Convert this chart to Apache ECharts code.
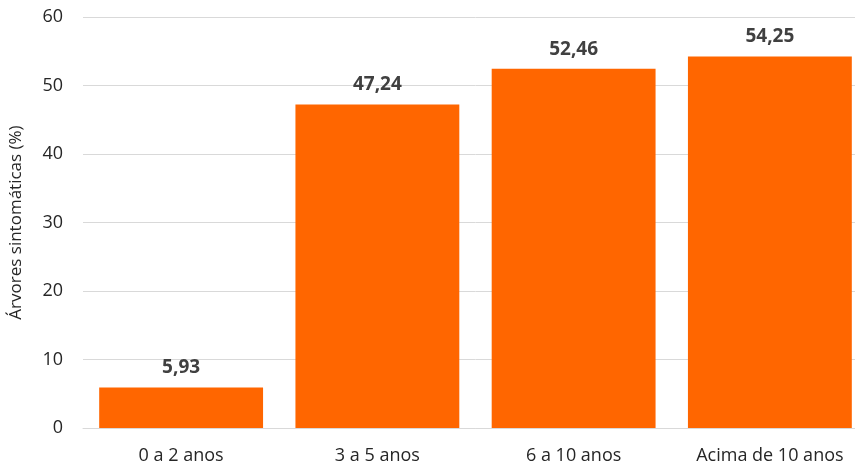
<!DOCTYPE html>
<html>
<head>
<meta charset="utf-8">
<script src="https://cdn.jsdelivr.net/npm/echarts@6/dist/echarts.min.js"></script>
<style>
  html, body { margin: 0; padding: 0; background: #fff; overflow: hidden; }
  /* canvas is a little wider than the window; the last bar runs off the right edge */
  #chart { width: 870px; height: 468px; }
</style>
</head>
<body>
<div id="chart"></div>
<script>
// Age classes of the orchards
const categories = ['0 a 2 anos', '3 a 5 anos', '6 a 10 anos', 'Acima de 10 anos'];
// Share of symptomatic trees per class (%)
const values = [5.93, 47.24, 52.46, 54.25];
// Y-axis scale
const yMin = 0;
const yMax = 60;
const yStep = 10;

const font = '"Open Sans", "Noto Sans", sans-serif';
const chart = echarts.init(document.getElementById('chart'));

chart.setOption({
  animation: false,
  grid: { left: 82, right: 2, top: 17, bottom: 40, containLabel: false },
  xAxis: {
    type: 'category',
    data: categories,
    axisLine: { lineStyle: { color: '#d9d9d9', width: 1 } },
    axisTick: { show: false },
    axisLabel: { color: '#262626', fontFamily: font, fontSize: 18, margin: 19 }
  },
  yAxis: {
    type: 'value',
    min: yMin,
    max: yMax,
    interval: yStep,
    name: 'Árvores sintomáticas (%)',
    nameLocation: 'middle',
    nameGap: 58,
    nameTextStyle: { color: '#262626', fontFamily: font, fontSize: 17 },
    axisLine: { show: false },
    axisTick: { show: false },
    splitLine: { lineStyle: { color: '#d9d9d9', width: 1 } },
    axisLabel: { color: '#262626', fontFamily: font, fontSize: 18, margin: 20 }
  },
  series: [{
    type: 'bar',
    data: values,
    barCategoryGap: '16.5%',
    itemStyle: { color: '#FF6600' },
    label: {
      show: true,
      position: 'top',
      distance: 10,
      color: '#404040',
      fontFamily: font,
      fontSize: 19,
      fontWeight: 'bold',
      formatter: p => p.value.toFixed(2).replace('.', ',')
    }
  }]
});
</script>
</body>
</html>
